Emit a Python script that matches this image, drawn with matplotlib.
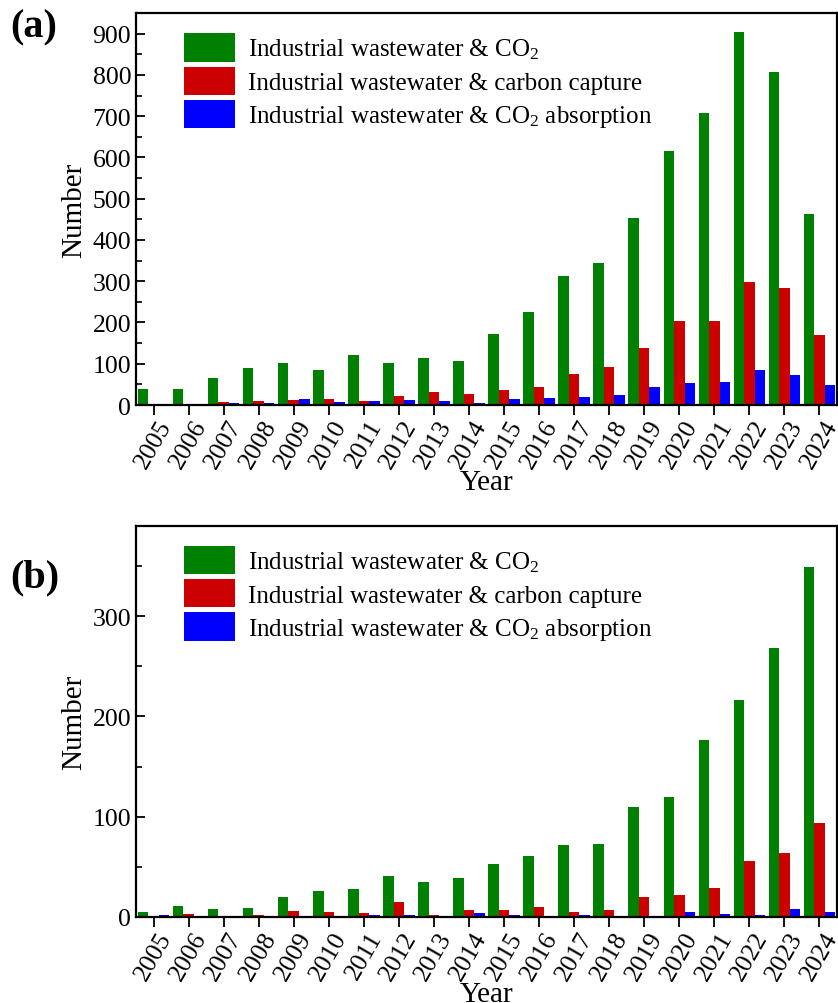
import numpy as np
import matplotlib
matplotlib.use("Agg")
import matplotlib.pyplot as plt
from matplotlib.ticker import MultipleLocator

plt.rcParams['font.family'] = ['Liberation Serif', 'DejaVu Serif']
plt.rcParams['mathtext.fontset'] = 'custom'
plt.rcParams['mathtext.rm'] = 'Liberation Serif'
plt.rcParams['mathtext.it'] = 'Liberation Serif:italic'

years = [str(y) for y in range(2005, 2025)]
labels = ['Industrial wastewater & CO$_2$',
          'Industrial wastewater & carbon capture',
          'Industrial wastewater & CO$_2$ absorption']
colors = ['#008000', '#CC0000', '#0000FF']

# panel (a)
a_co2 = [38, 40, 66, 90, 101, 86, 122, 101, 113, 107,
         173, 226, 312, 344, 453, 615, 707, 905, 806, 462]
a_capture = [2, 3, 7, 9, 12, 15, 10, 23, 31, 26,
             36, 43, 75, 93, 138, 204, 204, 298, 283, 169]
a_absorb = [3, 2, 5, 5, 15, 7, 10, 13, 10, 5,
            15, 18, 19, 24, 44, 54, 56, 86, 72, 48]

# panel (b)
b_co2 = [5, 11, 8, 9, 20, 26, 28, 41, 35, 39,
         53, 61, 72, 73, 110, 120, 177, 216, 268, 349]
b_capture = [0, 3, 0, 2, 6, 5, 4, 15, 2, 7,
             7, 10, 5, 7, 20, 22, 29, 56, 64, 94]
b_absorb = [2, 0, 0, 0, 0, 0, 2, 2, 0, 4,
            2, 0, 2, 0, 1, 5, 3, 2, 8, 5]

fig = plt.figure(figsize=(8.38, 10.04), dpi=100)
ax_a = fig.add_axes([0.1623, 0.5956, 0.8365, 0.3904])
ax_b = fig.add_axes([0.1623, 0.0857, 0.8365, 0.3894])

x = np.arange(len(years))
w = 0.3


def draw(ax, series, ymax, major, tag, tag_y):
    for i, (vals, c, lab) in enumerate(zip(series, colors, labels)):
        ax.bar(x + (i - 1) * w, vals, width=w, color=c, label=lab)
    ax.set_xlim(-0.5, 19.5)
    ax.set_ylim(0, ymax)
    ax.set_xticks(x)
    ax.set_xticklabels(years, rotation=60, fontsize=18.5)
    ax.yaxis.set_major_locator(MultipleLocator(major))
    ax.yaxis.set_minor_locator(MultipleLocator(50))
    ax.tick_params(axis='y', which='major', direction='in', length=6.5, width=1.3, labelsize=18.5)
    ax.tick_params(axis='y', which='minor', direction='in', length=4, width=1.2)
    ax.tick_params(axis='x', which='major', direction='out', length=7, width=1.3, pad=1)
    for s in ax.spines.values():
        s.set_linewidth(1.6)
    ax.set_xlabel('Year', fontsize=21, labelpad=-2)
    ax.set_ylabel('Number', fontsize=21, labelpad=4)
    ax.legend(loc='upper left', bbox_to_anchor=(0.068, 0.948), frameon=False,
              fontsize=18, handlelength=2.05, handleheight=1.35, handletextpad=0.52,
              labelspacing=0.2, borderpad=0, borderaxespad=0)
    fig.text(0.012, tag_y, tag, fontsize=29, fontweight='bold', va='center', ha='left')


draw(ax_a, [a_co2, a_capture, a_absorb], 950, 100, '(a)', 1 - 28 / 1004)
draw(ax_b, [b_co2, b_capture, b_absorb], 390, 100, '(b)', 1 - 578 / 1004)

fig.savefig('out.png', dpi=100)
